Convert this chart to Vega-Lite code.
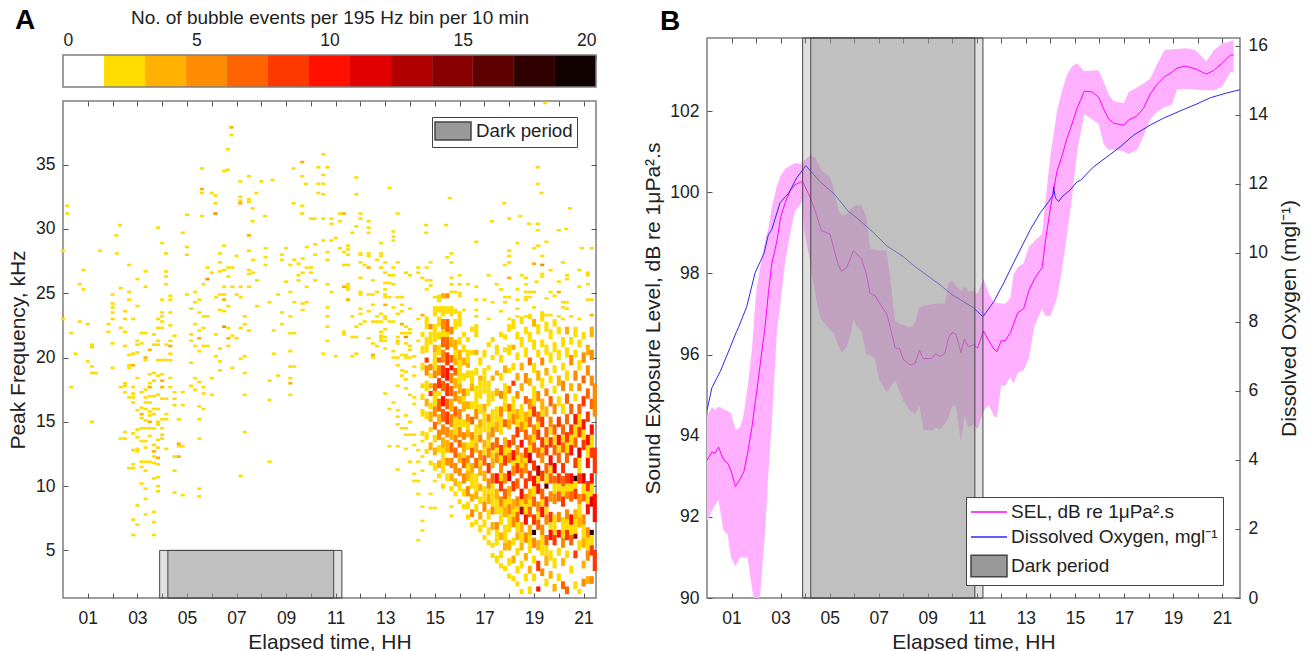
{"$schema":"https://vega.github.io/schema/vega-lite/v6.json","padding":{"left":6,"top":6,"right":0,"bottom":0},"background":"white","config":{"font":"Liberation Sans","view":{"stroke":"#7f7f7f","strokeWidth":1.5},"axis":{"grid":false,"domain":false,"zindex":1,"tickColor":"#555555","labelColor":"#222222","titleColor":"#222222","labelFontSize":17.5,"titleFontSize":21,"titleFontWeight":"normal","tickSize":-5,"labelPadding":13}},
"datasets":{"cb":[{"lo":0,"hi":1.54,"n":1},{"lo":1.54,"hi":3.08,"n":2},{"lo":3.08,"hi":4.62,"n":4},{"lo":4.62,"hi":6.15,"n":5},{"lo":6.15,"hi":7.69,"n":7},{"lo":7.69,"hi":9.23,"n":8},{"lo":9.23,"hi":10.77,"n":10},{"lo":10.77,"hi":12.31,"n":11},{"lo":12.31,"hi":13.85,"n":13},{"lo":13.85,"hi":15.38,"n":14},{"lo":15.38,"hi":16.92,"n":16},{"lo":16.92,"hi":18.46,"n":17},{"lo":18.46,"hi":20,"n":19}],
"cf":[{"lo":0,"hi":20}],
"sp":[{"t":0.17,"f":31.8,"n":2},{"t":0.17,"f":31.2,"n":2},{"t":0,"f":28.3,"n":2},{"t":0,"f":23,"n":2},{"t":0.33,"f":21.9,"n":2},{"t":0.33,"f":17.7,"n":2},{"t":0.5,"f":20.3,"n":2},{"t":0.67,"f":25.7,"n":2},{"t":0.67,"f":22.8,"n":2},{"t":0.83,"f":26.8,"n":2},{"t":0.83,"f":25.3,"n":2},{"t":1,"f":22.6,"n":2},{"t":1,"f":19.7,"n":2},{"t":1.17,"f":21,"n":2},{"t":1.17,"f":20.8,"n":2},{"t":1.17,"f":19.3,"n":2},{"t":1.17,"f":18.8,"n":2},{"t":1.33,"f":18.8,"n":2},{"t":1.17,"f":15,"n":2},{"t":1.5,"f":28.3,"n":2},{"t":1.83,"f":22.6,"n":2},{"t":1.83,"f":22,"n":2},{"t":2,"f":24.9,"n":2},{"t":2,"f":24.2,"n":2},{"t":2,"f":23.9,"n":2},{"t":2,"f":23.5,"n":2},{"t":2,"f":23,"n":2},{"t":2,"f":21.1,"n":2},{"t":2,"f":19.2,"n":2},{"t":2.17,"f":28.1,"n":2},{"t":2.15,"f":29.5,"n":2},{"t":2.3,"f":30.3,"n":2},{"t":2.33,"f":25.4,"n":2},{"t":2.33,"f":22.3,"n":2},{"t":2.33,"f":17.7,"n":2},{"t":2.33,"f":13.7,"n":2},{"t":2.5,"f":23.6,"n":2},{"t":2.5,"f":23,"n":2},{"t":2.5,"f":22,"n":2},{"t":2.5,"f":20.9,"n":2},{"t":2.5,"f":18,"n":2},{"t":2.5,"f":17.8,"n":2},{"t":2.5,"f":17.3,"n":2},{"t":2.5,"f":14.2,"n":2},{"t":2.5,"f":13.7,"n":2},{"t":2.67,"f":27.2,"n":2},{"t":2.67,"f":25.1,"n":2},{"t":2.67,"f":24.5,"n":2},{"t":2.67,"f":20.2,"n":2},{"t":2.67,"f":19.4,"n":2},{"t":2.67,"f":19.2,"n":2},{"t":2.67,"f":16.9,"n":2},{"t":2.67,"f":11.4,"n":2},{"t":2.83,"f":23,"n":2},{"t":2.83,"f":20.3,"n":2},{"t":2.83,"f":19.4,"n":4},{"t":2.83,"f":17.7,"n":2},{"t":2.83,"f":17.2,"n":2},{"t":2.83,"f":16.9,"n":2},{"t":2.83,"f":16.5,"n":2},{"t":2.83,"f":14.1,"n":2},{"t":2.83,"f":12.8,"n":2},{"t":2.83,"f":11.7,"n":2},{"t":2.83,"f":11.4,"n":2},{"t":2.83,"f":7.4,"n":2},{"t":2.83,"f":6.2,"n":2},{"t":3,"f":26.1,"n":2},{"t":3,"f":24,"n":2},{"t":3,"f":21.3,"n":2},{"t":3,"f":21,"n":2},{"t":3,"f":20.4,"n":2},{"t":3,"f":18.4,"n":2},{"t":3,"f":15.9,"n":2},{"t":3,"f":14.4,"n":2},{"t":3,"f":13.8,"n":2},{"t":3,"f":12.9,"n":2},{"t":3,"f":12.7,"n":2},{"t":3,"f":8.5,"n":2},{"t":3,"f":7,"n":2},{"t":3.17,"f":21.9,"n":2},{"t":3.17,"f":21.1,"n":2},{"t":3.17,"f":17.3,"n":2},{"t":3.17,"f":16.1,"n":2},{"t":3.17,"f":15.6,"n":4},{"t":3.17,"f":15.3,"n":2},{"t":3.17,"f":14.5,"n":2},{"t":3.17,"f":13.5,"n":2},{"t":3.17,"f":11.9,"n":2},{"t":3.17,"f":11.5,"n":2},{"t":3.17,"f":10.2,"n":2},{"t":3.33,"f":26.7,"n":2},{"t":3.33,"f":25.5,"n":2},{"t":3.33,"f":21.9,"n":2},{"t":3.33,"f":20,"n":4},{"t":3.33,"f":19.8,"n":2},{"t":3.33,"f":17.5,"n":2},{"t":3.33,"f":16.9,"n":2},{"t":3.33,"f":16.5,"n":2},{"t":3.33,"f":16,"n":2},{"t":3.33,"f":15.1,"n":2},{"t":3.33,"f":14.5,"n":2},{"t":3.33,"f":13.5,"n":2},{"t":3.33,"f":13,"n":2},{"t":3.33,"f":11.9,"n":2},{"t":3.33,"f":11.2,"n":2},{"t":3.33,"f":9.8,"n":2},{"t":3.33,"f":9,"n":2},{"t":3.33,"f":7.8,"n":2},{"t":3.5,"f":20.6,"n":4},{"t":3.5,"f":18.7,"n":2},{"t":3.5,"f":18,"n":2},{"t":3.5,"f":17.7,"n":4},{"t":3.5,"f":17,"n":2},{"t":3.5,"f":16.5,"n":2},{"t":3.5,"f":15.8,"n":2},{"t":3.5,"f":15.5,"n":2},{"t":3.5,"f":15,"n":4},{"t":3.5,"f":14.5,"n":2},{"t":3.5,"f":13.9,"n":2},{"t":3.5,"f":11.9,"n":2},{"t":3.67,"f":21.8,"n":2},{"t":3.67,"f":21,"n":2},{"t":3.67,"f":18.8,"n":2},{"t":3.67,"f":18.2,"n":2},{"t":3.67,"f":17,"n":2},{"t":3.67,"f":16,"n":2},{"t":3.67,"f":15.6,"n":2},{"t":3.67,"f":14.5,"n":2},{"t":3.67,"f":13.2,"n":2},{"t":3.67,"f":12.7,"n":4},{"t":3.67,"f":12.3,"n":2},{"t":3.67,"f":11.8,"n":2},{"t":3.67,"f":10.6,"n":2},{"t":3.67,"f":8,"n":2},{"t":3.67,"f":7.2,"n":2},{"t":3.67,"f":6.2,"n":2},{"t":3.83,"f":23,"n":2},{"t":3.83,"f":22.3,"n":2},{"t":3.83,"f":21.3,"n":2},{"t":3.83,"f":21,"n":2},{"t":3.83,"f":19.8,"n":2},{"t":3.83,"f":18.6,"n":2},{"t":3.83,"f":17.1,"n":2},{"t":3.83,"f":16,"n":2},{"t":3.83,"f":15,"n":2},{"t":3.83,"f":14.8,"n":2},{"t":3.83,"f":13.6,"n":2},{"t":3.83,"f":13,"n":2},{"t":3.83,"f":12.2,"n":4},{"t":3.83,"f":11.7,"n":2},{"t":3.83,"f":10.7,"n":2},{"t":3.83,"f":10,"n":2},{"t":3.83,"f":9.6,"n":2},{"t":3.83,"f":30.1,"n":2},{"t":4,"f":28.9,"n":2},{"t":4,"f":24.5,"n":2},{"t":4,"f":23.5,"n":2},{"t":4,"f":23.2,"n":2},{"t":4,"f":22.8,"n":2},{"t":4,"f":22.3,"n":2},{"t":4,"f":19.8,"n":2},{"t":4,"f":18.7,"n":2},{"t":4,"f":18.2,"n":4},{"t":4,"f":17.7,"n":4},{"t":4,"f":16.8,"n":2},{"t":4,"f":15.2,"n":2},{"t":4,"f":14.5,"n":2},{"t":4,"f":14,"n":2},{"t":4,"f":13.7,"n":2},{"t":4.15,"f":28.1,"n":2},{"t":4.15,"f":26.7,"n":2},{"t":4.15,"f":26.3,"n":2},{"t":4.15,"f":25.7,"n":2},{"t":4.17,"f":21,"n":2},{"t":4.17,"f":19.8,"n":2},{"t":4.17,"f":16.8,"n":2},{"t":4.17,"f":15.6,"n":2},{"t":4.17,"f":15.2,"n":2},{"t":4.17,"f":12.9,"n":2},{"t":4.33,"f":24.8,"n":2},{"t":4.33,"f":24.5,"n":2},{"t":4.33,"f":23.5,"n":2},{"t":4.33,"f":22.5,"n":2},{"t":4.33,"f":21.3,"n":2},{"t":4.33,"f":20.9,"n":4},{"t":4.33,"f":20.3,"n":2},{"t":4.33,"f":19.8,"n":2},{"t":4.33,"f":18.4,"n":2},{"t":4.33,"f":17.7,"n":2},{"t":4.5,"f":21.7,"n":2},{"t":4.5,"f":17.3,"n":2},{"t":4.5,"f":16.8,"n":2},{"t":4.5,"f":16.3,"n":2},{"t":4.5,"f":12.3,"n":2},{"t":4.5,"f":11.2,"n":2},{"t":4.5,"f":9.5,"n":2},{"t":4.67,"f":15.2,"n":2},{"t":4.67,"f":13.3,"n":4},{"t":4.67,"f":13.1,"n":2},{"t":4.67,"f":12.3,"n":4},{"t":4.83,"f":29.7,"n":2},{"t":4.83,"f":17.3,"n":2},{"t":4.83,"f":16.3,"n":2},{"t":4.83,"f":13.1,"n":2},{"t":4.83,"f":9.3,"n":2},{"t":5,"f":31.1,"n":2},{"t":5,"f":28.6,"n":2},{"t":5,"f":28,"n":2},{"t":5,"f":24.9,"n":2},{"t":5.17,"f":23.8,"n":2},{"t":5.17,"f":21.8,"n":2},{"t":5.17,"f":21.3,"n":2},{"t":5.17,"f":19.6,"n":2},{"t":5.17,"f":17.8,"n":2},{"t":5.33,"f":25.1,"n":2},{"t":5.33,"f":24.3,"n":2},{"t":5.33,"f":22.6,"n":2},{"t":5.33,"f":20.9,"n":2},{"t":5.33,"f":18.4,"n":2},{"t":5.33,"f":17.5,"n":2},{"t":5.5,"f":24.5,"n":2},{"t":5.5,"f":23.5,"n":2},{"t":5.5,"f":22.1,"n":2},{"t":5.5,"f":21.5,"n":4},{"t":5.5,"f":20.5,"n":2},{"t":5.5,"f":18.1,"n":2},{"t":5.5,"f":16.2,"n":2},{"t":5.5,"f":15.2,"n":2},{"t":5.5,"f":13.7,"n":2},{"t":5.5,"f":9.8,"n":2},{"t":5.5,"f":9.2,"n":2},{"t":5.6,"f":34.7,"n":2},{"t":5.6,"f":33.1,"n":4},{"t":5.6,"f":32.8,"n":2},{"t":5.6,"f":31,"n":2},{"t":5.67,"f":25.7,"n":2},{"t":5.67,"f":23.2,"n":2},{"t":5.67,"f":22.3,"n":2},{"t":5.67,"f":20.9,"n":2},{"t":5.67,"f":17.7,"n":2},{"t":5.67,"f":17.2,"n":2},{"t":5.67,"f":16,"n":2},{"t":5.83,"f":27,"n":2},{"t":5.83,"f":26.1,"n":5},{"t":5.83,"f":23.2,"n":2},{"t":5.83,"f":20.9,"n":2},{"t":6,"f":32.8,"n":2},{"t":6,"f":26.6,"n":2},{"t":6,"f":18.4,"n":2},{"t":6,"f":17.1,"n":2},{"t":6.15,"f":32.6,"n":2},{"t":6.15,"f":32,"n":2},{"t":6.15,"f":31.2,"n":5},{"t":6.17,"f":24.7,"n":2},{"t":6.17,"f":21.8,"n":2},{"t":6.17,"f":20.1,"n":2},{"t":6.33,"f":28.1,"n":2},{"t":6.33,"f":27.4,"n":2},{"t":6.33,"f":26.7,"n":2},{"t":6.33,"f":24.9,"n":2},{"t":6.33,"f":23.7,"n":2},{"t":6.33,"f":20.7,"n":2},{"t":6.33,"f":19.7,"n":2},{"t":6.33,"f":19,"n":2},{"t":6.5,"f":34.5,"n":2},{"t":6.5,"f":28.7,"n":2},{"t":6.5,"f":26.8,"n":2},{"t":6.5,"f":25.5,"n":2},{"t":6.5,"f":24.9,"n":2},{"t":6.5,"f":24.5,"n":4},{"t":6.5,"f":23.6,"n":2},{"t":6.5,"f":22.4,"n":5},{"t":6.65,"f":34.6,"n":2},{"t":6.65,"f":36.2,"n":2},{"t":6.67,"f":27,"n":2},{"t":6.67,"f":26.3,"n":2},{"t":6.67,"f":24,"n":2},{"t":6.67,"f":22.3,"n":2},{"t":6.67,"f":21.5,"n":4},{"t":6.67,"f":20.9,"n":2},{"t":6.8,"f":37.3,"n":2},{"t":6.8,"f":37.9,"n":4},{"t":6.83,"f":27,"n":2},{"t":6.83,"f":25.5,"n":2},{"t":6.83,"f":21.7,"n":2},{"t":6.83,"f":19.2,"n":2},{"t":7,"f":27.9,"n":2},{"t":7,"f":24.9,"n":2},{"t":7,"f":21.5,"n":2},{"t":7.15,"f":33.7,"n":2},{"t":7.15,"f":32.5,"n":2},{"t":7.15,"f":32.2,"n":2},{"t":7.15,"f":32,"n":4},{"t":7.17,"f":25.5,"n":2},{"t":7.17,"f":24.7,"n":2},{"t":7.17,"f":22.3,"n":2},{"t":7.17,"f":19.9,"n":2},{"t":7.17,"f":10.8,"n":2},{"t":7.33,"f":23.2,"n":2},{"t":7.33,"f":22.6,"n":2},{"t":7.33,"f":20.1,"n":2},{"t":7.33,"f":18.8,"n":2},{"t":7.33,"f":17.1,"n":2},{"t":7.33,"f":14.2,"n":2},{"t":7.5,"f":34.1,"n":2},{"t":7.5,"f":32.3,"n":2},{"t":7.5,"f":32.1,"n":2},{"t":7.5,"f":29.5,"n":4},{"t":7.5,"f":28.3,"n":2},{"t":7.5,"f":26.8,"n":2},{"t":7.5,"f":26.5,"n":2},{"t":7.5,"f":25.5,"n":2},{"t":7.5,"f":22.1,"n":2},{"t":7.65,"f":31.6,"n":2},{"t":7.65,"f":30.6,"n":2},{"t":7.67,"f":27.6,"n":2},{"t":7.67,"f":26.6,"n":2},{"t":7.8,"f":32.8,"n":2},{"t":7.83,"f":26,"n":2},{"t":7.83,"f":24,"n":2},{"t":8,"f":33.7,"n":2},{"t":8.15,"f":31,"n":2},{"t":8.17,"f":28.5,"n":2},{"t":8.17,"f":27.8,"n":2},{"t":8.17,"f":27.2,"n":2},{"t":8.33,"f":24.3,"n":2},{"t":8.33,"f":18.2,"n":2},{"t":8.33,"f":16.7,"n":2},{"t":8.33,"f":11.9,"n":2},{"t":8.45,"f":33.8,"n":2},{"t":8.5,"f":22.1,"n":2},{"t":8.5,"f":20.3,"n":2},{"t":8.67,"f":24.9,"n":2},{"t":8.67,"f":18.6,"n":2},{"t":8.83,"f":28,"n":2},{"t":8.83,"f":27.6,"n":2},{"t":8.83,"f":23.5,"n":2},{"t":8.83,"f":22.6,"n":2},{"t":9,"f":28.5,"n":2},{"t":9,"f":25.9,"n":2},{"t":9.17,"f":27.2,"n":2},{"t":9.17,"f":25.1,"n":2},{"t":9.17,"f":23.2,"n":2},{"t":9.17,"f":21.9,"n":2},{"t":9.17,"f":20.5,"n":2},{"t":9.17,"f":19.3,"n":2},{"t":9.17,"f":18.4,"n":2},{"t":9.17,"f":18,"n":4},{"t":9.17,"f":17.1,"n":2},{"t":9.3,"f":34.7,"n":2},{"t":9.3,"f":32,"n":2},{"t":9.33,"f":27.6,"n":2},{"t":9.33,"f":24.3,"n":2},{"t":9.33,"f":21.9,"n":2},{"t":9.33,"f":19.3,"n":2},{"t":9.5,"f":27.3,"n":2},{"t":9.5,"f":26.4,"n":2},{"t":9.5,"f":26,"n":2},{"t":9.65,"f":35.2,"n":4},{"t":9.65,"f":34.1,"n":2},{"t":9.65,"f":31.8,"n":2},{"t":9.65,"f":31.2,"n":2},{"t":9.67,"f":27.7,"n":2},{"t":9.67,"f":26.6,"n":2},{"t":9.67,"f":24.2,"n":2},{"t":9.67,"f":23.7,"n":2},{"t":9.8,"f":33.5,"n":2},{"t":9.83,"f":28.6,"n":2},{"t":9.83,"f":27,"n":2},{"t":9.83,"f":25.5,"n":2},{"t":9.83,"f":24.3,"n":2},{"t":10,"f":30.8,"n":2},{"t":10,"f":27,"n":2},{"t":10,"f":26.6,"n":2},{"t":10.15,"f":30.8,"n":2},{"t":10.17,"f":28.8,"n":2},{"t":10.17,"f":28,"n":2},{"t":10.17,"f":26,"n":2},{"t":10.3,"f":34.8,"n":2},{"t":10.3,"f":33.5,"n":2},{"t":10.3,"f":32.8,"n":2},{"t":10.5,"f":35.8,"n":2},{"t":10.5,"f":34.2,"n":2},{"t":10.5,"f":33.5,"n":2},{"t":10.5,"f":32.7,"n":2},{"t":10.5,"f":30.8,"n":2},{"t":10.5,"f":29.1,"n":2},{"t":10.5,"f":20.3,"n":2},{"t":10.67,"f":34.8,"n":2},{"t":10.67,"f":28.2,"n":2},{"t":10.67,"f":27.6,"n":2},{"t":10.67,"f":25.7,"n":2},{"t":10.67,"f":23.9,"n":2},{"t":10.67,"f":23.2,"n":2},{"t":10.67,"f":22.4,"n":2},{"t":10.67,"f":21.3,"n":2},{"t":10.83,"f":30.8,"n":2},{"t":10.83,"f":30.4,"n":2},{"t":10.83,"f":29.1,"n":2},{"t":10.83,"f":25.1,"n":2},{"t":11,"f":29.3,"n":2},{"t":11,"f":20.1,"n":2},{"t":11.17,"f":31.2,"n":2},{"t":11.17,"f":30.6,"n":2},{"t":11.17,"f":28.5,"n":2},{"t":11.33,"f":31.2,"n":4},{"t":11.33,"f":28.2,"n":2},{"t":11.33,"f":27.2,"n":2},{"t":11.33,"f":25.5,"n":4},{"t":11.33,"f":22,"n":2},{"t":11.33,"f":21.8,"n":2},{"t":11.5,"f":28.7,"n":2},{"t":11.5,"f":28.4,"n":2},{"t":11.5,"f":28,"n":2},{"t":11.5,"f":27.2,"n":2},{"t":11.5,"f":25.7,"n":2},{"t":11.5,"f":25.5,"n":2},{"t":11.5,"f":25.3,"n":2},{"t":11.5,"f":24.5,"n":4},{"t":11.67,"f":29.7,"n":2},{"t":11.67,"f":23.2,"n":2},{"t":11.67,"f":21.6,"n":2},{"t":11.67,"f":20.1,"n":2},{"t":11.83,"f":34,"n":2},{"t":11.83,"f":32.7,"n":2},{"t":11.83,"f":30.2,"n":2},{"t":11.83,"f":22.4,"n":2},{"t":11.83,"f":21.6,"n":2},{"t":11.83,"f":20.3,"n":2},{"t":12,"f":31.2,"n":2},{"t":12,"f":30.8,"n":2},{"t":12,"f":28.1,"n":2},{"t":12,"f":28,"n":2},{"t":12,"f":27.4,"n":2},{"t":12,"f":26.2,"n":2},{"t":12,"f":25.1,"n":2},{"t":12,"f":24.9,"n":2},{"t":12,"f":23.8,"n":2},{"t":12,"f":23.4,"n":2},{"t":12,"f":22.6,"n":2},{"t":12.17,"f":27.2,"n":2},{"t":12.17,"f":22.8,"n":2},{"t":12.33,"f":30.6,"n":2},{"t":12.33,"f":30.1,"n":2},{"t":12.33,"f":29.7,"n":2},{"t":12.33,"f":28.1,"n":2},{"t":12.33,"f":27.9,"n":2},{"t":12.33,"f":27,"n":4},{"t":12.33,"f":24.9,"n":2},{"t":12.33,"f":23.6,"n":2},{"t":12.33,"f":21.5,"n":2},{"t":12.5,"f":26,"n":2},{"t":12.5,"f":24.9,"n":2},{"t":12.5,"f":24.1,"n":2},{"t":12.5,"f":22.8,"n":2},{"t":12.5,"f":21.1,"n":2},{"t":12.5,"f":20.2,"n":4},{"t":12.5,"f":20,"n":2},{"t":12.67,"f":27.6,"n":2},{"t":12.67,"f":25.1,"n":2},{"t":12.67,"f":23.2,"n":2},{"t":12.67,"f":22.8,"n":2},{"t":12.67,"f":20.9,"n":2},{"t":12.83,"f":28.9,"n":2},{"t":12.83,"f":28.1,"n":2},{"t":12.83,"f":27.9,"n":2},{"t":12.83,"f":27,"n":2},{"t":12.83,"f":23.4,"n":2},{"t":12.83,"f":22.8,"n":2},{"t":12.83,"f":22,"n":2},{"t":12.83,"f":21.7,"n":2},{"t":12.83,"f":21.5,"n":2},{"t":12.83,"f":21.3,"n":2},{"t":13,"f":27.4,"n":2},{"t":13,"f":26.6,"n":2},{"t":13,"f":25.8,"n":2},{"t":13,"f":25.3,"n":2},{"t":13,"f":24.9,"n":2},{"t":13,"f":24.7,"n":2},{"t":13,"f":24.1,"n":4},{"t":13,"f":23.2,"n":2},{"t":13,"f":23,"n":2},{"t":13,"f":22.2,"n":2},{"t":13,"f":21.6,"n":2},{"t":13,"f":21.3,"n":2},{"t":13,"f":20.7,"n":2},{"t":13,"f":17.2,"n":2},{"t":13.17,"f":33.2,"n":2},{"t":13.17,"f":26.4,"n":2},{"t":13.17,"f":25.8,"n":2},{"t":13.17,"f":24.7,"n":2},{"t":13.17,"f":22.8,"n":2},{"t":13.17,"f":16,"n":2},{"t":13.17,"f":13.1,"n":2},{"t":13.33,"f":29.8,"n":2},{"t":13.33,"f":29.4,"n":2},{"t":13.33,"f":29.1,"n":2},{"t":13.33,"f":27,"n":2},{"t":13.33,"f":26.4,"n":2},{"t":13.33,"f":25.7,"n":2},{"t":13.33,"f":23.9,"n":2},{"t":13.33,"f":22.8,"n":2},{"t":13.33,"f":20.5,"n":2},{"t":13.33,"f":20,"n":2},{"t":13.33,"f":16.5,"n":2},{"t":13.5,"f":31.2,"n":2},{"t":13.5,"f":27.4,"n":2},{"t":13.5,"f":24.7,"n":2},{"t":13.5,"f":23.4,"n":2},{"t":13.5,"f":21.6,"n":2},{"t":13.5,"f":21.3,"n":2},{"t":13.5,"f":21.1,"n":2},{"t":13.5,"f":20,"n":2},{"t":13.5,"f":19.4,"n":2},{"t":13.5,"f":17.8,"n":2},{"t":13.5,"f":15.9,"n":2},{"t":13.5,"f":15.4,"n":2},{"t":13.5,"f":14.8,"n":2},{"t":13.5,"f":13.1,"n":2},{"t":13.5,"f":11.3,"n":2},{"t":13.67,"f":24.7,"n":2},{"t":13.67,"f":24.1,"n":2},{"t":13.67,"f":23.6,"n":2},{"t":13.67,"f":22.6,"n":4},{"t":13.67,"f":21.9,"n":2},{"t":13.67,"f":20.2,"n":2},{"t":13.67,"f":19,"n":2},{"t":13.67,"f":18.6,"n":2},{"t":13.67,"f":14.5,"n":2},{"t":13.83,"f":26.6,"n":2},{"t":13.83,"f":22.4,"n":2},{"t":13.83,"f":21.9,"n":2},{"t":13.83,"f":21.6,"n":5},{"t":13.83,"f":21.1,"n":2},{"t":13.83,"f":20.2,"n":2},{"t":13.83,"f":20,"n":2},{"t":13.83,"f":18.9,"n":2},{"t":13.83,"f":18.3,"n":2},{"t":13.83,"f":17.6,"n":2},{"t":13.83,"f":15.5,"n":2},{"t":13.83,"f":14.5,"n":2},{"t":13.83,"f":14,"n":2},{"t":13.83,"f":12.9,"n":2},{"t":14,"f":26.4,"n":2},{"t":14,"f":23.8,"n":2},{"t":14,"f":22.2,"n":2},{"t":14,"f":21.9,"n":2},{"t":14,"f":20.9,"n":2},{"t":14,"f":20.6,"n":2},{"t":14,"f":20,"n":2},{"t":14,"f":17.1,"n":2},{"t":14,"f":15,"n":2},{"t":14,"f":14,"n":2},{"t":14,"f":11.9,"n":2},{"t":14.17,"f":20.1,"n":2},{"t":14.17,"f":19.3,"n":2},{"t":14.17,"f":18.6,"n":2},{"t":14.17,"f":16.9,"n":2},{"t":14.17,"f":16.4,"n":2},{"t":14.17,"f":14,"n":2},{"t":14.17,"f":13.2,"n":2},{"t":14.17,"f":10.95,"n":2},{"t":14.17,"f":10.4,"n":2},{"t":14.33,"f":27,"n":2},{"t":14.33,"f":26.6,"n":2},{"t":14.33,"f":23,"n":2},{"t":14.33,"f":21.3,"n":2},{"t":14.33,"f":12.8,"n":2},{"t":14.33,"f":11.9,"n":2},{"t":14.33,"f":10.4,"n":2},{"t":14.33,"f":9.4,"n":2},{"t":14.33,"f":5.8,"n":2},{"t":14.5,"f":26.2,"n":2},{"t":14.5,"f":23.3,"n":4},{"t":14.5,"f":13.5,"n":2},{"t":14.5,"f":12.3,"n":2},{"t":14.5,"f":11.2,"n":2},{"t":14.5,"f":8.4,"n":2},{"t":14.5,"f":7.3,"n":2},{"t":14.5,"f":6.55,"n":2},{"t":14.65,"f":30.3,"n":2},{"t":14.65,"f":29.7,"n":2},{"t":14.67,"f":27,"n":2},{"t":14.67,"f":26,"n":2},{"t":14.67,"f":25.3,"n":2},{"t":14.83,"f":27.4,"n":2},{"t":14.83,"f":26,"n":2},{"t":14.83,"f":25.6,"n":2},{"t":14.83,"f":9.4,"n":2},{"t":14.83,"f":8.3,"n":2},{"t":15,"f":24.7,"n":2},{"t":15,"f":10.4,"n":2},{"t":15,"f":8.3,"n":2},{"t":15.45,"f":30.3,"n":2},{"t":15.6,"f":32.4,"n":2},{"t":15.5,"f":27.8,"n":2},{"t":15.67,"f":28.1,"n":2},{"t":15.67,"f":27.4,"n":2},{"t":15.67,"f":26.2,"n":2},{"t":15.67,"f":25.7,"n":2},{"t":15.67,"f":25.1,"n":2},{"t":15.67,"f":8.4,"n":2},{"t":15.67,"f":7.7,"n":2},{"t":15.83,"f":25.1,"n":2},{"t":16,"f":26.4,"n":2},{"t":16,"f":25.7,"n":2},{"t":16,"f":25,"n":2},{"t":16,"f":24.8,"n":2},{"t":16.17,"f":23.7,"n":2},{"t":16.33,"f":25.7,"n":2},{"t":16.67,"f":29,"n":2},{"t":16.67,"f":25.5,"n":2},{"t":16.67,"f":24.5,"n":2},{"t":16.67,"f":23.7,"n":2},{"t":16.67,"f":23.2,"n":2},{"t":17,"f":24.5,"n":2},{"t":17.17,"f":26.4,"n":2},{"t":17.17,"f":23,"n":2},{"t":17.3,"f":30.6,"n":2},{"t":17.33,"f":24.3,"n":2},{"t":17.5,"f":25.7,"n":2},{"t":17.67,"f":25.3,"n":2},{"t":17.67,"f":23.6,"n":2},{"t":17.8,"f":32,"n":2},{"t":17.83,"f":27.2,"n":2},{"t":17.83,"f":24.7,"n":2},{"t":17.83,"f":24.3,"n":2},{"t":18,"f":30.8,"n":2},{"t":18,"f":28.3,"n":2},{"t":18,"f":27.9,"n":2},{"t":18,"f":27.4,"n":2},{"t":18,"f":26.2,"n":4},{"t":18,"f":24.7,"n":2},{"t":18,"f":23,"n":2},{"t":18.33,"f":28.9,"n":2},{"t":18.33,"f":25.3,"n":2},{"t":18.33,"f":24.5,"n":2},{"t":18.33,"f":23.8,"n":2},{"t":18.33,"f":23.2,"n":2},{"t":18.45,"f":31,"n":2},{"t":18.5,"f":26.4,"n":2},{"t":18.67,"f":26.2,"n":2},{"t":18.67,"f":25.7,"n":2},{"t":18.67,"f":25.1,"n":2},{"t":18.67,"f":24.7,"n":2},{"t":18.67,"f":24.5,"n":2},{"t":18.67,"f":23.2,"n":2},{"t":18.8,"f":30.4,"n":2},{"t":18.83,"f":25.1,"n":2},{"t":18.83,"f":24.7,"n":2},{"t":19,"f":28.5,"n":2},{"t":19,"f":27.3,"n":4},{"t":19,"f":25.1,"n":2},{"t":19,"f":23.9,"n":2},{"t":19.1,"f":25.9,"n":2},{"t":19.15,"f":34.8,"n":2},{"t":19.15,"f":33.5,"n":2},{"t":19.15,"f":30.4,"n":2},{"t":19.15,"f":29.9,"n":2},{"t":19.17,"f":28.7,"n":2},{"t":19.3,"f":32.8,"n":2},{"t":19.33,"f":27.9,"n":2},{"t":19.33,"f":27.2,"n":5},{"t":19.33,"f":26.5,"n":2},{"t":19.33,"f":26.3,"n":2},{"t":19.45,"f":39.8,"n":2},{"t":19.5,"f":29,"n":2},{"t":19.5,"f":24.6,"n":2},{"t":19.5,"f":23.3,"n":2},{"t":19.67,"f":26.8,"n":2},{"t":19.67,"f":25.1,"n":2},{"t":19.67,"f":23.3,"n":2},{"t":19.83,"f":24.8,"n":2},{"t":20,"f":29.9,"n":2},{"t":20,"f":25.9,"n":2},{"t":20,"f":25.1,"n":4},{"t":20,"f":23.2,"n":2},{"t":20.17,"f":27.4,"n":2},{"t":20.17,"f":24.3,"n":2},{"t":20.17,"f":23.9,"n":2},{"t":20.17,"f":23,"n":2},{"t":20.3,"f":30,"n":2},{"t":20.33,"f":26.4,"n":2},{"t":20.33,"f":26.1,"n":2},{"t":20.33,"f":24.3,"n":2},{"t":20.33,"f":23.8,"n":2},{"t":20.45,"f":31.6,"n":2},{"t":20.5,"f":23.2,"n":2},{"t":20.83,"f":26.8,"n":2},{"t":20.83,"f":25.5,"n":2},{"t":20.83,"f":23,"n":2},{"t":20.93,"f":28.5,"n":2},{"t":21.17,"f":26.6,"n":2},{"t":21.17,"f":26.4,"n":2},{"t":21.17,"f":25.7,"n":2},{"t":21.17,"f":24.5,"n":2},{"t":21.33,"f":28.5,"n":2},{"t":21.33,"f":24.5,"n":2},{"t":21.33,"f":23.3,"n":4}],
"dn":[{"t":15,"f":16.2,"g":17.4,"n":2},{"t":15,"f":19,"g":20.4,"n":2},{"t":15.33,"f":21.6,"g":22.2,"n":2},{"t":15.33,"f":11.6,"g":13,"n":2},{"t":15.5,"f":21.6,"g":22,"n":2},{"t":15.83,"f":14,"g":15.4,"n":2},{"t":15.83,"f":20,"g":20.6,"n":2},{"t":16,"f":14.6,"g":15.2,"n":2},{"t":16,"f":18,"g":19.8,"n":2},{"t":16.17,"f":12.2,"g":12.6,"n":2},{"t":16.17,"f":16.6,"g":17,"n":2},{"t":16.33,"f":14.4,"g":15,"n":2},{"t":16.33,"f":11.2,"g":11.8,"n":2},{"t":16.33,"f":19.6,"g":20.6,"n":2},{"t":16.5,"f":18,"g":18.6,"n":2},{"t":16.5,"f":13,"g":13.6,"n":2},{"t":16.5,"f":10.4,"g":11,"n":2},{"t":16.67,"f":16,"g":17,"n":2},{"t":16.67,"f":13.4,"g":14,"n":2},{"t":16.67,"f":9.6,"g":10.2,"n":2},{"t":16.83,"f":11.6,"g":12,"n":2},{"t":16.83,"f":14,"g":14.6,"n":2},{"t":16.83,"f":17.6,"g":18.2,"n":2},{"t":17,"f":12.4,"g":13,"n":2},{"t":17,"f":15,"g":15.8,"n":2},{"t":17,"f":8.8,"g":9.2,"n":2},{"t":17,"f":18,"g":18.6,"n":2},{"t":17.17,"f":13,"g":13.6,"n":2},{"t":17.17,"f":9.4,"g":9.8,"n":2},{"t":17.17,"f":14.2,"g":15,"n":2},{"t":17.17,"f":16.8,"g":17.6,"n":2},{"t":17.33,"f":14.6,"g":15.2,"n":2},{"t":17.33,"f":9.8,"g":10.2,"n":2},{"t":17.33,"f":12.2,"g":12.8,"n":2},{"t":17.33,"f":8.4,"g":9,"n":2},{"t":17.5,"f":12.6,"g":13,"n":2},{"t":17.5,"f":15,"g":15.6,"n":2},{"t":17.5,"f":8.6,"g":9,"n":2},{"t":17.5,"f":6,"g":6.6,"n":2},{"t":17.67,"f":14.8,"g":15.4,"n":2},{"t":17.67,"f":11.8,"g":12.4,"n":2},{"t":17.67,"f":7.8,"g":8.4,"n":2},{"t":17.67,"f":10.4,"g":11,"n":2},{"t":17.83,"f":12.4,"g":13,"n":2},{"t":17.83,"f":16.6,"g":17.4,"n":2},{"t":17.83,"f":8.4,"g":9,"n":2},{"t":17.83,"f":5.6,"g":6.2,"n":2},{"t":18,"f":15.2,"g":15.8,"n":2},{"t":18,"f":12.6,"g":13,"n":2},{"t":18,"f":8.6,"g":9.2,"n":2},{"t":18,"f":7.2,"g":7.8,"n":2},{"t":18.17,"f":15.6,"g":16.4,"n":2},{"t":18.17,"f":11.6,"g":12,"n":2},{"t":18.17,"f":7.6,"g":8.2,"n":2},{"t":18.33,"f":14.6,"g":15.2,"n":2},{"t":18.33,"f":11.8,"g":12.4,"n":2},{"t":18.33,"f":8,"g":8.4,"n":2},{"t":18.33,"f":6.4,"g":7.2,"n":2},{"t":18.5,"f":15,"g":15.6,"n":2},{"t":18.5,"f":11.4,"g":11.8,"n":2},{"t":18.5,"f":8.4,"g":9,"n":2},{"t":18.5,"f":5.6,"g":6.4,"n":2},{"t":18.67,"f":14.4,"g":15,"n":2},{"t":18.67,"f":11.8,"g":12.2,"n":2},{"t":18.67,"f":7.8,"g":8.6,"n":2},{"t":18.83,"f":15.4,"g":16,"n":2},{"t":18.83,"f":12.6,"g":13.2,"n":2},{"t":18.83,"f":8.4,"g":9,"n":2},{"t":18.83,"f":5.4,"g":6.2,"n":2},{"t":19,"f":13.4,"g":14,"n":2},{"t":19,"f":9.2,"g":10,"n":2},{"t":19,"f":16.2,"g":17,"n":2},{"t":19.17,"f":14.4,"g":15,"n":2},{"t":19.17,"f":10.2,"g":10.8,"n":2},{"t":19.17,"f":7.4,"g":8,"n":2},{"t":19.33,"f":12.6,"g":13,"n":2},{"t":19.33,"f":15.4,"g":16,"n":2},{"t":19.33,"f":8.4,"g":9,"n":2},{"t":19.33,"f":5.4,"g":6.2,"n":2},{"t":19.5,"f":13.2,"g":13.8,"n":2},{"t":19.5,"f":10.2,"g":11,"n":2},{"t":19.5,"f":7.8,"g":8.4,"n":2},{"t":19.5,"f":4.6,"g":5.4,"n":2},{"t":19.67,"f":14,"g":14.6,"n":2},{"t":19.67,"f":11,"g":11.6,"n":2},{"t":19.67,"f":6.6,"g":7.2,"n":2},{"t":19.83,"f":13.2,"g":14,"n":2},{"t":19.83,"f":9.4,"g":10.2,"n":2},{"t":19.83,"f":6.2,"g":7,"n":2},{"t":20,"f":12.6,"g":13.2,"n":2},{"t":20,"f":9.6,"g":10.2,"n":2},{"t":20.17,"f":13.4,"g":14,"n":2},{"t":20.17,"f":9.2,"g":10,"n":2},{"t":20.17,"f":6,"g":6.8,"n":2},{"t":20.33,"f":12.6,"g":13.4,"n":2},{"t":20.33,"f":9.6,"g":10.2,"n":2},{"t":20.33,"f":6.6,"g":7.4,"n":2},{"t":20.5,"f":13.2,"g":14,"n":2},{"t":20.5,"f":9.6,"g":10.2,"n":2},{"t":20.5,"f":6.2,"g":7,"n":2},{"t":20.67,"f":13.8,"g":14.8,"n":2},{"t":20.67,"f":9.8,"g":10.4,"n":2},{"t":20.67,"f":6.3,"g":7.4,"n":2},{"t":20.83,"f":11,"g":12.2,"n":2},{"t":20.83,"f":7.6,"g":8.6,"n":2},{"t":20.83,"f":14.6,"g":15.6,"n":2},{"t":21,"f":13.6,"g":14.4,"n":2},{"t":21,"f":9.4,"g":10.2,"n":2},{"t":21,"f":6,"g":7,"n":2},{"t":21.17,"f":12.2,"g":13.2,"n":2},{"t":21.17,"f":8.6,"g":9.6,"n":2},{"t":21.17,"f":5,"g":6,"n":2},{"t":21.33,"f":13,"g":14,"n":2},{"t":21.33,"f":9.2,"g":10.2,"n":2},{"t":21.33,"f":5.4,"g":6.2,"n":2},{"t":14.5,"f":21.6,"g":22,"n":2},{"t":14.5,"f":20.3,"g":20.9,"n":2},{"t":14.5,"f":19,"g":19.6,"n":2},{"t":14.5,"f":17.6,"g":18,"n":2},{"t":14.5,"f":16.7,"g":17.2,"n":2},{"t":14.5,"f":15.4,"g":16,"n":2},{"t":14.5,"f":13.9,"g":14.3,"n":2},{"t":14.67,"f":22.2,"g":23.2,"n":2},{"t":14.67,"f":20.4,"g":21.6,"n":2},{"t":14.67,"f":19.6,"g":20,"n":8},{"t":14.67,"f":18.6,"g":19.4,"n":5},{"t":14.67,"f":17.4,"g":18.2,"n":2},{"t":14.67,"f":16.2,"g":16.8,"n":4},{"t":14.67,"f":15.2,"g":15.8,"n":2},{"t":14.67,"f":13.6,"g":14.2,"n":2},{"t":14.67,"f":12.5,"g":12.9,"n":2},{"t":14.83,"f":22.2,"g":22.6,"n":5},{"t":14.83,"f":21,"g":22,"n":2},{"t":14.83,"f":19,"g":19.5,"n":5},{"t":14.83,"f":18.4,"g":18.8,"n":2},{"t":14.83,"f":17.6,"g":18,"n":4},{"t":14.83,"f":17,"g":17.4,"n":8},{"t":14.83,"f":16,"g":16.5,"n":2},{"t":14.83,"f":15,"g":15.8,"n":4},{"t":14.83,"f":14.2,"g":14.6,"n":2},{"t":14.83,"f":12.8,"g":13.4,"n":4},{"t":14.83,"f":11.6,"g":12,"n":2},{"t":15,"f":23.2,"g":24,"n":2},{"t":15,"f":21.2,"g":22.6,"n":2},{"t":15,"f":20.4,"g":21,"n":4},{"t":15,"f":19.4,"g":19.8,"n":2},{"t":15,"f":18.4,"g":19,"n":5},{"t":15,"f":17.4,"g":18,"n":7},{"t":15,"f":16.6,"g":17,"n":2},{"t":15,"f":15.4,"g":16.2,"n":5},{"t":15,"f":14.4,"g":15,"n":7},{"t":15,"f":13.4,"g":14,"n":2},{"t":15,"f":12.4,"g":13,"n":4},{"t":15,"f":11.2,"g":11.8,"n":2},{"t":15.17,"f":24.3,"g":24.9,"n":2},{"t":15.17,"f":23.5,"g":24,"n":2},{"t":15.17,"f":22.4,"g":23.2,"n":2},{"t":15.17,"f":21.4,"g":22,"n":2},{"t":15.17,"f":20.2,"g":21,"n":2},{"t":15.17,"f":19.6,"g":20,"n":7},{"t":15.17,"f":18.6,"g":19.4,"n":5},{"t":15.17,"f":17.6,"g":18.4,"n":8},{"t":15.17,"f":17,"g":17.4,"n":2},{"t":15.17,"f":15.8,"g":16.8,"n":7},{"t":15.17,"f":14.8,"g":15.6,"n":4},{"t":15.17,"f":13.6,"g":14.4,"n":5},{"t":15.17,"f":12.6,"g":13.2,"n":2},{"t":15.17,"f":11.4,"g":12,"n":4},{"t":15.17,"f":10.6,"g":11,"n":2},{"t":15.33,"f":24.6,"g":25,"n":4},{"t":15.33,"f":23.2,"g":24,"n":2},{"t":15.33,"f":22.2,"g":23,"n":5},{"t":15.33,"f":20.8,"g":21.6,"n":7},{"t":15.33,"f":19.6,"g":20.6,"n":5},{"t":15.33,"f":18.4,"g":19.4,"n":8},{"t":15.33,"f":17.4,"g":18.2,"n":7},{"t":15.33,"f":16.2,"g":17,"n":10},{"t":15.33,"f":15,"g":16,"n":7},{"t":15.33,"f":14,"g":14.8,"n":5},{"t":15.33,"f":13,"g":13.8,"n":4},{"t":15.33,"f":12,"g":12.6,"n":2},{"t":15.33,"f":11,"g":11.6,"n":2},{"t":15.33,"f":9.8,"g":10.2,"n":2},{"t":15.5,"f":24.6,"g":25,"n":5},{"t":15.5,"f":23.4,"g":24,"n":2},{"t":15.5,"f":22,"g":23,"n":7},{"t":15.5,"f":20.6,"g":21.6,"n":7},{"t":15.5,"f":19.4,"g":20.4,"n":8},{"t":15.5,"f":18.2,"g":19.2,"n":10},{"t":15.5,"f":17,"g":18,"n":8},{"t":15.5,"f":16,"g":16.8,"n":7},{"t":15.5,"f":14.8,"g":15.8,"n":8},{"t":15.5,"f":13.8,"g":14.6,"n":5},{"t":15.5,"f":12.6,"g":13.6,"n":4},{"t":15.5,"f":11.6,"g":12.2,"n":5},{"t":15.5,"f":10.4,"g":11,"n":2},{"t":15.67,"f":23.2,"g":24,"n":2},{"t":15.67,"f":21.8,"g":22.4,"n":5},{"t":15.67,"f":20.8,"g":21.6,"n":4},{"t":15.67,"f":19.6,"g":20.2,"n":7},{"t":15.67,"f":19,"g":19.4,"n":10},{"t":15.67,"f":18,"g":18.8,"n":5},{"t":15.67,"f":17,"g":17.8,"n":7},{"t":15.67,"f":15.8,"g":16.8,"n":4},{"t":15.67,"f":14.6,"g":15.6,"n":5},{"t":15.67,"f":13.6,"g":14.4,"n":4},{"t":15.67,"f":12.6,"g":13.4,"n":7},{"t":15.67,"f":11.4,"g":12.2,"n":5},{"t":15.67,"f":10.4,"g":11,"n":4},{"t":15.67,"f":9.6,"g":10,"n":2},{"t":15.83,"f":23.4,"g":23.8,"n":2},{"t":15.83,"f":22.2,"g":23,"n":2},{"t":15.83,"f":20.6,"g":21.4,"n":4},{"t":15.83,"f":19.4,"g":20,"n":4},{"t":15.83,"f":18.6,"g":19.2,"n":7},{"t":15.83,"f":17.6,"g":18.4,"n":4},{"t":15.83,"f":16.6,"g":17.4,"n":5},{"t":15.83,"f":15.4,"g":16.2,"n":7},{"t":15.83,"f":14.4,"g":15.2,"n":2},{"t":15.83,"f":13.4,"g":14,"n":5},{"t":15.83,"f":12.2,"g":13,"n":7},{"t":15.83,"f":11,"g":11.8,"n":5},{"t":15.83,"f":10,"g":10.6,"n":4},{"t":15.83,"f":9.2,"g":9.6,"n":2},{"t":16,"f":22.4,"g":23.6,"n":2},{"t":16,"f":21,"g":21.6,"n":2},{"t":16,"f":19.8,"g":20.6,"n":4},{"t":16,"f":18.4,"g":19.4,"n":2},{"t":16,"f":17.2,"g":18,"n":4},{"t":16,"f":16.4,"g":17,"n":4},{"t":16,"f":15.2,"g":16,"n":5},{"t":16,"f":13.8,"g":14.6,"n":5},{"t":16,"f":13,"g":13.6,"n":7},{"t":16,"f":11.8,"g":12.6,"n":4},{"t":16,"f":10.8,"g":11.4,"n":5},{"t":16,"f":9.6,"g":10.4,"n":2},{"t":16,"f":8.6,"g":9,"n":2},{"t":16.17,"f":21.6,"g":22,"n":2},{"t":16.17,"f":20.4,"g":21,"n":2},{"t":16.17,"f":19.4,"g":20,"n":4},{"t":16.17,"f":18.2,"g":18.8,"n":2},{"t":16.17,"f":17,"g":17.6,"n":5},{"t":16.17,"f":15.8,"g":16.6,"n":4},{"t":16.17,"f":14.6,"g":15.2,"n":2},{"t":16.17,"f":13.6,"g":14.2,"n":5},{"t":16.17,"f":12.6,"g":13.4,"n":4},{"t":16.17,"f":11.4,"g":12.2,"n":7},{"t":16.17,"f":10.2,"g":11,"n":5},{"t":16.17,"f":9.2,"g":9.8,"n":2},{"t":16.17,"f":8.2,"g":8.6,"n":2},{"t":16.33,"f":21.2,"g":21.6,"n":2},{"t":16.33,"f":19.2,"g":19.6,"n":4},{"t":16.33,"f":18.4,"g":19,"n":2},{"t":16.33,"f":17,"g":17.6,"n":2},{"t":16.33,"f":16,"g":16.6,"n":4},{"t":16.33,"f":15,"g":15.6,"n":5},{"t":16.33,"f":13.8,"g":14.4,"n":4},{"t":16.33,"f":12.8,"g":13.4,"n":2},{"t":16.33,"f":11.8,"g":12.4,"n":5},{"t":16.33,"f":10.4,"g":11.2,"n":4},{"t":16.33,"f":9.2,"g":10,"n":5},{"t":16.33,"f":8.2,"g":8.8,"n":2},{"t":16.33,"f":7.4,"g":7.8,"n":2},{"t":16.5,"f":22,"g":22.4,"n":2},{"t":16.5,"f":20.2,"g":20.6,"n":2},{"t":16.5,"f":18.6,"g":19,"n":2},{"t":16.5,"f":17.4,"g":18,"n":4},{"t":16.5,"f":16,"g":16.6,"n":2},{"t":16.5,"f":14.8,"g":15.4,"n":7},{"t":16.5,"f":13.6,"g":14.2,"n":5},{"t":16.5,"f":12.2,"g":13,"n":7},{"t":16.5,"f":11,"g":11.8,"n":4},{"t":16.5,"f":9.8,"g":10.4,"n":2},{"t":16.5,"f":8.8,"g":9.4,"n":4},{"t":16.5,"f":7.6,"g":8.2,"n":5},{"t":16.5,"f":6.8,"g":7.2,"n":2},{"t":16.67,"f":21.6,"g":22.6,"n":2},{"t":16.67,"f":20.2,"g":20.6,"n":4},{"t":16.67,"f":18.6,"g":19.2,"n":2},{"t":16.67,"f":17,"g":17.8,"n":2},{"t":16.67,"f":15.2,"g":16,"n":5},{"t":16.67,"f":14,"g":14.8,"n":2},{"t":16.67,"f":12.6,"g":13.4,"n":4},{"t":16.67,"f":11.4,"g":12.2,"n":7},{"t":16.67,"f":10.2,"g":11,"n":2},{"t":16.67,"f":9,"g":9.6,"n":4},{"t":16.67,"f":8,"g":8.6,"n":2},{"t":16.67,"f":7,"g":7.4,"n":2},{"t":16.83,"f":19.4,"g":20,"n":2},{"t":16.83,"f":18.2,"g":18.6,"n":4},{"t":16.83,"f":16.8,"g":17.6,"n":2},{"t":16.83,"f":15.6,"g":16.4,"n":2},{"t":16.83,"f":14.6,"g":15.2,"n":4},{"t":16.83,"f":13.4,"g":14,"n":5},{"t":16.83,"f":12,"g":12.8,"n":5},{"t":16.83,"f":10.8,"g":11.6,"n":4},{"t":16.83,"f":9.6,"g":10.2,"n":4},{"t":16.83,"f":8.6,"g":9.2,"n":2},{"t":16.83,"f":7.4,"g":8,"n":4},{"t":16.83,"f":6.4,"g":7,"n":2},{"t":17,"f":20,"g":20.6,"n":2},{"t":17,"f":18.6,"g":19.2,"n":2},{"t":17,"f":17.2,"g":18,"n":2},{"t":17,"f":15.8,"g":16.4,"n":4},{"t":17,"f":14.2,"g":15,"n":2},{"t":17,"f":13,"g":13.6,"n":4},{"t":17,"f":11.6,"g":12.4,"n":7},{"t":17,"f":10.4,"g":11.2,"n":4},{"t":17,"f":9.2,"g":10,"n":2},{"t":17,"f":8,"g":8.8,"n":5},{"t":17,"f":6.8,"g":7.4,"n":2},{"t":17,"f":5.8,"g":6.2,"n":2},{"t":17.17,"f":20.8,"g":21.2,"n":2},{"t":17.17,"f":19,"g":19.4,"n":2},{"t":17.17,"f":17.6,"g":18.2,"n":2},{"t":17.17,"f":16.2,"g":16.8,"n":2},{"t":17.17,"f":15,"g":15.6,"n":5},{"t":17.17,"f":13.6,"g":14.2,"n":4},{"t":17.17,"f":12.2,"g":13,"n":5},{"t":17.17,"f":11,"g":11.8,"n":8},{"t":17.17,"f":9.8,"g":10.6,"n":5},{"t":17.17,"f":8.6,"g":9.4,"n":4},{"t":17.17,"f":7.4,"g":8.2,"n":2},{"t":17.17,"f":6.2,"g":6.8,"n":2},{"t":17.17,"f":5.4,"g":5.8,"n":2},{"t":17.33,"f":21.2,"g":21.6,"n":2},{"t":17.33,"f":19.8,"g":20.2,"n":2},{"t":17.33,"f":18.2,"g":18.6,"n":4},{"t":17.33,"f":16.6,"g":17.4,"n":2},{"t":17.33,"f":15.2,"g":16,"n":2},{"t":17.33,"f":13.8,"g":14.6,"n":5},{"t":17.33,"f":12.8,"g":13.4,"n":7},{"t":17.33,"f":11.4,"g":12.2,"n":4},{"t":17.33,"f":10.2,"g":11,"n":7},{"t":17.33,"f":9,"g":9.8,"n":2},{"t":17.33,"f":7.8,"g":8.4,"n":5},{"t":17.33,"f":6.6,"g":7.2,"n":4},{"t":17.33,"f":5.2,"g":5.6,"n":2},{"t":17.33,"f":4.4,"g":4.8,"n":2},{"t":17.5,"f":20.2,"g":21,"n":2},{"t":17.5,"f":18.6,"g":19,"n":4},{"t":17.5,"f":17,"g":17.6,"n":4},{"t":17.5,"f":15.6,"g":16.2,"n":2},{"t":17.5,"f":14.2,"g":15,"n":4},{"t":17.5,"f":13,"g":13.8,"n":7},{"t":17.5,"f":11.8,"g":12.6,"n":5},{"t":17.5,"f":10.2,"g":11,"n":10},{"t":17.5,"f":9,"g":9.8,"n":4},{"t":17.5,"f":7.8,"g":8.6,"n":2},{"t":17.5,"f":6.6,"g":7.2,"n":5},{"t":17.5,"f":5.4,"g":6,"n":2},{"t":17.5,"f":4,"g":4.6,"n":2},{"t":17.67,"f":21.6,"g":22,"n":2},{"t":17.67,"f":19.6,"g":20.2,"n":2},{"t":17.67,"f":18.2,"g":18.8,"n":2},{"t":17.67,"f":16.8,"g":17.4,"n":5},{"t":17.67,"f":15.4,"g":16.2,"n":5},{"t":17.67,"f":14,"g":14.8,"n":2},{"t":17.67,"f":12.4,"g":13.2,"n":8},{"t":17.67,"f":11,"g":11.8,"n":5},{"t":17.67,"f":9.6,"g":10.4,"n":8},{"t":17.67,"f":8.4,"g":9.2,"n":5},{"t":17.67,"f":7,"g":7.8,"n":2},{"t":17.67,"f":5.8,"g":6.4,"n":4},{"t":17.67,"f":4.4,"g":5,"n":2},{"t":17.67,"f":3.6,"g":4,"n":2},{"t":17.83,"f":21.4,"g":21.8,"n":2},{"t":17.83,"f":20.4,"g":20.8,"n":2},{"t":17.83,"f":18.8,"g":19.4,"n":4},{"t":17.83,"f":17.4,"g":18,"n":2},{"t":17.83,"f":15.8,"g":16.6,"n":2},{"t":17.83,"f":14.6,"g":15.2,"n":7},{"t":17.83,"f":13,"g":13.8,"n":4},{"t":17.83,"f":11.6,"g":12.4,"n":8},{"t":17.83,"f":10.2,"g":11,"n":5},{"t":17.83,"f":9,"g":9.8,"n":7},{"t":17.83,"f":7.6,"g":8.4,"n":4},{"t":17.83,"f":6.2,"g":7,"n":2},{"t":17.83,"f":5,"g":5.6,"n":4},{"t":17.83,"f":3.4,"g":3.8,"n":2},{"t":18,"f":22,"g":22.6,"n":2},{"t":18,"f":20.2,"g":21,"n":2},{"t":18,"f":18.8,"g":19.2,"n":2},{"t":18,"f":17.2,"g":17.8,"n":5},{"t":18,"f":15.8,"g":16.4,"n":7},{"t":18,"f":14.4,"g":15.2,"n":4},{"t":18,"f":13,"g":13.6,"n":8},{"t":18,"f":11.8,"g":12.6,"n":5},{"t":18,"f":10.4,"g":11.2,"n":11},{"t":18,"f":9.2,"g":10,"n":4},{"t":18,"f":7.8,"g":8.6,"n":5},{"t":18,"f":6.4,"g":7.2,"n":2},{"t":18,"f":5,"g":5.8,"n":4},{"t":18,"f":3.8,"g":4.4,"n":2},{"t":18,"f":2.8,"g":3.2,"n":2},{"t":18.17,"f":22.2,"g":23,"n":2},{"t":18.17,"f":20.6,"g":21,"n":4},{"t":18.17,"f":19,"g":19.6,"n":2},{"t":18.17,"f":17.8,"g":18.2,"n":8},{"t":18.17,"f":16.4,"g":17,"n":2},{"t":18.17,"f":14.8,"g":15.6,"n":5},{"t":18.17,"f":13.2,"g":14,"n":7},{"t":18.17,"f":12,"g":12.8,"n":10},{"t":18.17,"f":10.8,"g":11.6,"n":5},{"t":18.17,"f":9.6,"g":10.4,"n":8},{"t":18.17,"f":8.2,"g":9,"n":4},{"t":18.17,"f":6.8,"g":7.6,"n":5},{"t":18.17,"f":5.4,"g":6,"n":2},{"t":18.17,"f":4,"g":4.6,"n":4},{"t":18.17,"f":2.6,"g":3,"n":2},{"t":18.33,"f":21.4,"g":22,"n":2},{"t":18.33,"f":19.8,"g":20.4,"n":2},{"t":18.33,"f":18.2,"g":18.8,"n":4},{"t":18.33,"f":16.8,"g":17.4,"n":5},{"t":18.33,"f":15.2,"g":16,"n":4},{"t":18.33,"f":13.8,"g":14.6,"n":8},{"t":18.33,"f":12.4,"g":13.2,"n":5},{"t":18.33,"f":11,"g":11.8,"n":8},{"t":18.33,"f":9.8,"g":10.6,"n":7},{"t":18.33,"f":8.4,"g":9.2,"n":5},{"t":18.33,"f":7.2,"g":8,"n":7},{"t":18.33,"f":5.8,"g":6.4,"n":4},{"t":18.33,"f":4.6,"g":5.2,"n":2},{"t":18.33,"f":3.2,"g":3.8,"n":2},{"t":18.33,"f":2.2,"g":2.6,"n":2},{"t":18.5,"f":22.6,"g":23.2,"n":2},{"t":18.5,"f":20.8,"g":21.6,"n":2},{"t":18.5,"f":19,"g":19.6,"n":4},{"t":18.5,"f":17.4,"g":18,"n":4},{"t":18.5,"f":15.6,"g":16.4,"n":2},{"t":18.5,"f":14.2,"g":15,"n":5},{"t":18.5,"f":13,"g":13.6,"n":10},{"t":18.5,"f":11.8,"g":12.6,"n":4},{"t":18.5,"f":10.6,"g":11.4,"n":7},{"t":18.5,"f":9,"g":9.8,"n":10},{"t":18.5,"f":7.8,"g":8.4,"n":13},{"t":18.5,"f":6.4,"g":7.2,"n":4},{"t":18.5,"f":5,"g":5.6,"n":4},{"t":18.5,"f":3.6,"g":4.2,"n":2},{"t":18.5,"f":1.6,"g":2,"n":2},{"t":18.67,"f":21.8,"g":22.4,"n":2},{"t":18.67,"f":20,"g":20.8,"n":2},{"t":18.67,"f":18,"g":18.8,"n":5},{"t":18.67,"f":16.4,"g":17,"n":7},{"t":18.67,"f":15,"g":15.8,"n":4},{"t":18.67,"f":13.6,"g":14.4,"n":7},{"t":18.67,"f":12.2,"g":13,"n":8},{"t":18.67,"f":11,"g":11.8,"n":5},{"t":18.67,"f":9.8,"g":10.6,"n":8},{"t":18.67,"f":8.6,"g":9.4,"n":5},{"t":18.67,"f":7,"g":7.8,"n":10},{"t":18.67,"f":5.6,"g":6.4,"n":5},{"t":18.67,"f":4.2,"g":4.8,"n":4},{"t":18.67,"f":2.6,"g":3.2,"n":2},{"t":18.83,"f":23,"g":23.4,"n":2},{"t":18.83,"f":21.2,"g":22,"n":2},{"t":18.83,"f":19.4,"g":20,"n":7},{"t":18.83,"f":17.8,"g":18.4,"n":4},{"t":18.83,"f":16,"g":16.8,"n":5},{"t":18.83,"f":14.6,"g":15.4,"n":7},{"t":18.83,"f":13.2,"g":14,"n":5},{"t":18.83,"f":11.8,"g":12.6,"n":11},{"t":18.83,"f":10.4,"g":11.2,"n":8},{"t":18.83,"f":9,"g":9.8,"n":4},{"t":18.83,"f":7.6,"g":8.4,"n":7},{"t":18.83,"f":6.2,"g":7,"n":4},{"t":18.83,"f":4.8,"g":5.4,"n":2},{"t":18.83,"f":3.2,"g":3.8,"n":4},{"t":18.83,"f":1.6,"g":2.2,"n":2},{"t":19,"f":22.4,"g":23,"n":4},{"t":19,"f":20.6,"g":21.4,"n":2},{"t":19,"f":18.8,"g":19.6,"n":2},{"t":19,"f":17,"g":17.8,"n":2},{"t":19,"f":15.4,"g":16.2,"n":8},{"t":19,"f":14,"g":14.8,"n":5},{"t":19,"f":12.6,"g":13.4,"n":7},{"t":19,"f":11.2,"g":12,"n":8},{"t":19,"f":10,"g":10.8,"n":10},{"t":19,"f":8.4,"g":9.2,"n":7},{"t":19,"f":7,"g":7.8,"n":8},{"t":19,"f":6.2,"g":6.6,"n":17},{"t":19,"f":5.2,"g":6,"n":5},{"t":19,"f":4,"g":4.6,"n":2},{"t":19,"f":2.6,"g":3.2,"n":2},{"t":19.17,"f":21.8,"g":22.6,"n":2},{"t":19.17,"f":20,"g":20.6,"n":2},{"t":19.17,"f":18.2,"g":19,"n":4},{"t":19.17,"f":16.6,"g":17.4,"n":5},{"t":19.17,"f":15,"g":15.8,"n":7},{"t":19.17,"f":13.6,"g":14.4,"n":8},{"t":19.17,"f":12.2,"g":13,"n":7},{"t":19.17,"f":10.8,"g":11.6,"n":13},{"t":19.17,"f":9.4,"g":10.2,"n":10},{"t":19.17,"f":8,"g":8.8,"n":5},{"t":19.17,"f":6.6,"g":7.4,"n":7},{"t":19.17,"f":5,"g":5.8,"n":4},{"t":19.17,"f":3.4,"g":4.2,"n":8},{"t":19.17,"f":1.8,"g":2.2,"n":10},{"t":19.33,"f":22.8,"g":23.6,"n":2},{"t":19.33,"f":20.8,"g":21.4,"n":2},{"t":19.33,"f":19.4,"g":20,"n":5},{"t":19.33,"f":17.6,"g":18.4,"n":2},{"t":19.33,"f":16,"g":16.8,"n":4},{"t":19.33,"f":14.6,"g":15.4,"n":8},{"t":19.33,"f":13,"g":13.8,"n":8},{"t":19.33,"f":11.8,"g":12.6,"n":5},{"t":19.33,"f":10.4,"g":11.2,"n":8},{"t":19.33,"f":9,"g":9.8,"n":7},{"t":19.33,"f":7.6,"g":8.4,"n":10},{"t":19.33,"f":6.2,"g":7,"n":5},{"t":19.33,"f":4.6,"g":5.4,"n":2},{"t":19.33,"f":3,"g":3.6,"n":5},{"t":19.5,"f":22,"g":22.8,"n":2},{"t":19.5,"f":20.2,"g":21,"n":2},{"t":19.5,"f":18.6,"g":19.2,"n":4},{"t":19.5,"f":17,"g":17.6,"n":5},{"t":19.5,"f":15.4,"g":16.2,"n":4},{"t":19.5,"f":13.8,"g":14.6,"n":7},{"t":19.5,"f":12.4,"g":13.2,"n":8},{"t":19.5,"f":11,"g":11.8,"n":7},{"t":19.5,"f":9.8,"g":10.2,"n":16},{"t":19.5,"f":8.4,"g":9.2,"n":8},{"t":19.5,"f":7,"g":7.8,"n":5},{"t":19.5,"f":5.4,"g":6.2,"n":7},{"t":19.5,"f":3.8,"g":4.6,"n":4},{"t":19.5,"f":2.2,"g":2.8,"n":2},{"t":19.67,"f":21.4,"g":22.2,"n":2},{"t":19.67,"f":19.6,"g":20.4,"n":2},{"t":19.67,"f":18,"g":18.6,"n":2},{"t":19.67,"f":16.2,"g":17,"n":7},{"t":19.67,"f":14.6,"g":15.4,"n":5},{"t":19.67,"f":13,"g":13.8,"n":8},{"t":19.67,"f":11.6,"g":12.4,"n":10},{"t":19.67,"f":10.2,"g":11,"n":7},{"t":19.67,"f":8.8,"g":9.6,"n":5},{"t":19.67,"f":7.2,"g":8,"n":8},{"t":19.67,"f":5.8,"g":6.6,"n":10},{"t":19.67,"f":4.2,"g":5,"n":2},{"t":19.67,"f":2.8,"g":3.4,"n":4},{"t":19.83,"f":22.4,"g":23,"n":2},{"t":19.83,"f":20.4,"g":21.2,"n":2},{"t":19.83,"f":18.8,"g":19.4,"n":2},{"t":19.83,"f":17.2,"g":17.8,"n":2},{"t":19.83,"f":15.6,"g":16.4,"n":5},{"t":19.83,"f":14,"g":14.8,"n":7},{"t":19.83,"f":12.4,"g":13.2,"n":7},{"t":19.83,"f":11,"g":11.8,"n":11},{"t":19.83,"f":10.2,"g":10.8,"n":7},{"t":19.83,"f":8.6,"g":9.4,"n":5},{"t":19.83,"f":7,"g":7.8,"n":2},{"t":19.83,"f":5.4,"g":6.2,"n":8},{"t":19.83,"f":3.6,"g":4.4,"n":2},{"t":19.83,"f":1.8,"g":2.4,"n":4},{"t":20,"f":21.8,"g":22.4,"n":2},{"t":20,"f":19.8,"g":20.6,"n":2},{"t":20,"f":17.8,"g":18.6,"n":4},{"t":20,"f":16.2,"g":17,"n":2},{"t":20,"f":14.6,"g":15.4,"n":8},{"t":20,"f":13.2,"g":14,"n":10},{"t":20,"f":11.8,"g":12.6,"n":7},{"t":20,"f":10.2,"g":11,"n":8},{"t":20,"f":8.8,"g":9.6,"n":7},{"t":20,"f":7.2,"g":8,"n":5},{"t":20,"f":6,"g":6.6,"n":10},{"t":20,"f":4.6,"g":5.2,"n":2},{"t":20,"f":2.6,"g":3.2,"n":2},{"t":20.17,"f":20.8,"g":21.6,"n":2},{"t":20.17,"f":19,"g":19.6,"n":2},{"t":20.17,"f":17.4,"g":18.2,"n":5},{"t":20.17,"f":15.6,"g":16.4,"n":2},{"t":20.17,"f":14,"g":14.8,"n":7},{"t":20.17,"f":12.6,"g":13.4,"n":7},{"t":20.17,"f":11,"g":11.8,"n":8},{"t":20.17,"f":10,"g":10.8,"n":7},{"t":20.17,"f":8.4,"g":9.2,"n":8},{"t":20.17,"f":6.8,"g":7.6,"n":2},{"t":20.17,"f":5.2,"g":6,"n":5},{"t":20.17,"f":3.8,"g":4.4,"n":4},{"t":20.17,"f":2,"g":2.6,"n":7},{"t":20.33,"f":21.8,"g":22.4,"n":4},{"t":20.33,"f":20,"g":20.8,"n":2},{"t":20.33,"f":18.2,"g":19,"n":2},{"t":20.33,"f":16.4,"g":17.2,"n":7},{"t":20.33,"f":14.8,"g":15.6,"n":7},{"t":20.33,"f":13.4,"g":14.2,"n":8},{"t":20.33,"f":11.8,"g":12.6,"n":7},{"t":20.33,"f":10.2,"g":11,"n":8},{"t":20.33,"f":9,"g":9.6,"n":5},{"t":20.33,"f":7.4,"g":8.2,"n":5},{"t":20.33,"f":5.8,"g":6.6,"n":8},{"t":20.33,"f":4.4,"g":5,"n":2},{"t":20.33,"f":1.6,"g":2.2,"n":7},{"t":20.5,"f":21,"g":21.6,"n":2},{"t":20.5,"f":19.4,"g":20.2,"n":5},{"t":20.5,"f":17.4,"g":18,"n":4},{"t":20.5,"f":15.6,"g":16.4,"n":7},{"t":20.5,"f":14,"g":14.8,"n":8},{"t":20.5,"f":12.4,"g":13.2,"n":10},{"t":20.5,"f":10.2,"g":11,"n":10},{"t":20.5,"f":8.8,"g":9.6,"n":7},{"t":20.5,"f":7,"g":7.8,"n":10},{"t":20.5,"f":5.4,"g":6.2,"n":7},{"t":20.5,"f":3.2,"g":3.8,"n":2},{"t":20.67,"f":21.6,"g":22.4,"n":2},{"t":20.67,"f":20,"g":20.6,"n":2},{"t":20.67,"f":18.2,"g":19,"n":5},{"t":20.67,"f":16.6,"g":17.2,"n":2},{"t":20.67,"f":14.8,"g":15.6,"n":10},{"t":20.67,"f":13,"g":13.8,"n":7},{"t":20.67,"f":11.4,"g":12.2,"n":8},{"t":20.67,"f":10.4,"g":10.8,"n":19},{"t":20.67,"f":9,"g":9.8,"n":8},{"t":20.67,"f":7.4,"g":8.2,"n":4},{"t":20.67,"f":5.9,"g":6.3,"n":14},{"t":20.67,"f":4.4,"g":5,"n":8},{"t":20.67,"f":2,"g":2.6,"n":2},{"t":20.83,"f":20.8,"g":21.4,"n":2},{"t":20.83,"f":19,"g":19.8,"n":2},{"t":20.83,"f":17.4,"g":18,"n":5},{"t":20.83,"f":15.6,"g":16.4,"n":7},{"t":20.83,"f":13.8,"g":14.6,"n":8},{"t":20.83,"f":12.2,"g":13,"n":11},{"t":20.83,"f":10.2,"g":11,"n":8},{"t":20.83,"f":8.6,"g":9.4,"n":5},{"t":20.83,"f":6.8,"g":7.6,"n":4},{"t":20.83,"f":5,"g":5.8,"n":2},{"t":20.83,"f":1.6,"g":2,"n":2},{"t":21,"f":21.4,"g":22,"n":2},{"t":21,"f":19.6,"g":20.4,"n":5},{"t":21,"f":18,"g":18.6,"n":7},{"t":21,"f":16.2,"g":17,"n":8},{"t":21,"f":14.4,"g":15.2,"n":10},{"t":21,"f":12.8,"g":13.6,"n":8},{"t":21,"f":10.2,"g":11,"n":11},{"t":21,"f":8.8,"g":9.4,"n":7},{"t":21,"f":7,"g":7.8,"n":5},{"t":21,"f":5.2,"g":6,"n":4},{"t":21,"f":3.6,"g":4.2,"n":4},{"t":21,"f":2.2,"g":2.8,"n":5},{"t":21.17,"f":20.2,"g":21,"n":4},{"t":21.17,"f":18.6,"g":19.4,"n":5},{"t":21.17,"f":16.8,"g":17.6,"n":7},{"t":21.17,"f":15,"g":15.8,"n":8},{"t":21.17,"f":13.2,"g":14,"n":10},{"t":21.17,"f":11.4,"g":12.2,"n":10},{"t":21.17,"f":9.6,"g":10.4,"n":8},{"t":21.17,"f":7.8,"g":8.6,"n":10},{"t":21.17,"f":6,"g":6.8,"n":5},{"t":21.17,"f":4.2,"g":5,"n":5},{"t":21.17,"f":2.4,"g":3,"n":4},{"t":21.33,"f":21.6,"g":22.4,"n":4},{"t":21.33,"f":19.8,"g":20.6,"n":5},{"t":21.33,"f":17.8,"g":18.6,"n":5},{"t":21.33,"f":16,"g":16.8,"n":7},{"t":21.33,"f":14,"g":14.8,"n":10},{"t":21.33,"f":12.2,"g":13,"n":8},{"t":21.33,"f":10.2,"g":11,"n":10},{"t":21.33,"f":8.4,"g":9.2,"n":11},{"t":21.33,"f":6.2,"g":6.6,"n":17},{"t":21.33,"f":4.6,"g":5.4,"n":8},{"t":21.33,"f":2.4,"g":3,"n":5},{"t":21.45,"f":11,"g":13,"n":8},{"t":21.45,"f":7.2,"g":9.4,"n":10},{"t":21.45,"f":15.4,"g":18,"n":5},{"t":21.45,"f":3.4,"g":5,"n":8}],
"dkA":[{"a":3.9,"b":11.25,"lo":1.3,"hi":5,"s":"o"},{"a":4.23,"b":10.92,"lo":1.3,"hi":5,"s":"i"}],
"dkB":[{"a":3.9,"b":11.25,"s":"o"},{"a":4.23,"b":10.92,"s":"i"}],
"lgA":[{"k":"Dark period"}],
"lgB":[{"k":"SEL, dB re 1μPa².s"},{"k":"Dissolved Oxygen, mgl⁻¹"},{"k":"Dark period"}],
"sel":[{"t":0,"lo":91.88,"m":93.39,"hi":94.49},{"t":0.2,"lo":92.15,"m":93.6,"hi":94.7},{"t":0.33,"lo":92.3,"m":93.57,"hi":94.64},{"t":0.47,"lo":92.4,"m":93.72,"hi":94.71},{"t":0.67,"lo":91.66,"m":93.41,"hi":94.66},{"t":0.84,"lo":91.58,"m":93.32,"hi":94.6},{"t":0.98,"lo":91,"m":93.14,"hi":94.56},{"t":1.16,"lo":90.78,"m":92.75,"hi":94.14},{"t":1.35,"lo":91,"m":92.93,"hi":94.2},{"t":1.5,"lo":91,"m":93.11,"hi":94.53},{"t":1.65,"lo":91,"m":93.55,"hi":95.19},{"t":1.83,"lo":90.27,"m":94.2,"hi":96.1},{"t":1.96,"lo":89.8,"m":94.8,"hi":97.2},{"t":2.03,"lo":89.8,"m":95.1,"hi":97.65},{"t":2.17,"lo":90.1,"m":95.76,"hi":98.15},{"t":2.37,"lo":91.66,"m":96.7,"hi":98.8},{"t":2.5,"lo":93.06,"m":97.5,"hi":99.1},{"t":2.64,"lo":94.3,"m":98.23,"hi":99.63},{"t":2.85,"lo":96.58,"m":98.8,"hi":100.15},{"t":3,"lo":97.3,"m":99.38,"hi":100.4},{"t":3.19,"lo":98.3,"m":99.75,"hi":100.58},{"t":3.39,"lo":98.97,"m":100.04,"hi":100.65},{"t":3.59,"lo":99.54,"m":100.18,"hi":100.72},{"t":3.8,"lo":99.7,"m":100.25,"hi":100.7},{"t":3.89,"lo":99.79,"m":100.25,"hi":100.7},{"t":3.95,"lo":99.1,"m":100.2,"hi":100.78},{"t":4.2,"lo":98.31,"m":99.88,"hi":100.9},{"t":4.41,"lo":97.5,"m":99.55,"hi":100.86},{"t":4.61,"lo":96.92,"m":99.15,"hi":100.6},{"t":4.68,"lo":96.85,"m":99.05,"hi":100.53},{"t":5.02,"lo":96.6,"m":98.97,"hi":100.37},{"t":5.16,"lo":96.54,"m":98.64,"hi":100.1},{"t":5.36,"lo":96.2,"m":98.19,"hi":99.55},{"t":5.5,"lo":96.05,"m":98.05,"hi":99.42},{"t":5.7,"lo":96.2,"m":98.15,"hi":99.46},{"t":5.9,"lo":96.58,"m":98.45,"hi":99.62},{"t":5.97,"lo":96.9,"m":98.56,"hi":99.65},{"t":6.1,"lo":96.67,"m":98.48,"hi":99.67},{"t":6.3,"lo":96.58,"m":98.35,"hi":99.68},{"t":6.5,"lo":96,"m":97.98,"hi":99.38},{"t":6.65,"lo":95.98,"m":97.5,"hi":98.6},{"t":6.85,"lo":95.9,"m":97.45,"hi":98.58},{"t":7,"lo":95.4,"m":97.3,"hi":98.57},{"t":7.33,"lo":95.07,"m":97,"hi":98.56},{"t":7.47,"lo":95.2,"m":96.67,"hi":97.86},{"t":7.67,"lo":95.38,"m":96.16,"hi":96.83},{"t":7.85,"lo":95.1,"m":96.15,"hi":96.75},{"t":8,"lo":94.86,"m":95.88,"hi":96.72},{"t":8.3,"lo":94.6,"m":95.74,"hi":96.67},{"t":8.48,"lo":94.53,"m":95.78,"hi":96.79},{"t":8.66,"lo":94.74,"m":96.11,"hi":97.16},{"t":8.82,"lo":94.15,"m":95.9,"hi":97.2},{"t":9.16,"lo":94.12,"m":95.9,"hi":97.24},{"t":9.32,"lo":94.2,"m":96.02,"hi":97.25},{"t":9.5,"lo":94.15,"m":95.95,"hi":97.25},{"t":9.7,"lo":94.3,"m":96.03,"hi":97.26},{"t":9.85,"lo":94.45,"m":96.42,"hi":97.78},{"t":10,"lo":94.74,"m":96.54,"hi":97.82},{"t":10.15,"lo":94.74,"m":96.5,"hi":97.7},{"t":10.35,"lo":93.84,"m":96.05,"hi":97.57},{"t":10.5,"lo":94.53,"m":96.38,"hi":97.67},{"t":10.65,"lo":94.2,"m":96.19,"hi":97.55},{"t":10.87,"lo":94.28,"m":96.24,"hi":97.57},{"t":11.03,"lo":94.15,"m":96.16,"hi":97.49},{"t":11.27,"lo":94.61,"m":96.58,"hi":97.87},{"t":11.49,"lo":94.75,"m":96.34,"hi":97.5},{"t":11.69,"lo":94.5,"m":96.14,"hi":97.3},{"t":11.82,"lo":94.44,"m":96.07,"hi":97.27},{"t":11.99,"lo":95.23,"m":96.34,"hi":97.26},{"t":12.16,"lo":95.23,"m":96.34,"hi":97.25},{"t":12.37,"lo":95.45,"m":96.54,"hi":97.4},{"t":12.5,"lo":95.28,"m":96.75,"hi":97.98},{"t":12.67,"lo":95.55,"m":97.03,"hi":98.15},{"t":12.91,"lo":95.62,"m":97.13,"hi":98.25},{"t":13.12,"lo":95.9,"m":97.57,"hi":98.65},{"t":13.35,"lo":96.7,"m":97.87,"hi":98.8},{"t":13.66,"lo":97.12,"m":98.14,"hi":98.97},{"t":13.8,"lo":96.95,"m":98.8,"hi":99.8},{"t":14,"lo":96.95,"m":99.61,"hi":100.9},{"t":14.27,"lo":97.4,"m":100.52,"hi":102},{"t":14.47,"lo":98.07,"m":100.89,"hi":102.49},{"t":14.68,"lo":98.97,"m":101.33,"hi":102.9},{"t":14.88,"lo":99.86,"m":101.68,"hi":103.1},{"t":15.09,"lo":101,"m":102.07,"hi":103.18},{"t":15.38,"lo":101.92,"m":102.49,"hi":102.98},{"t":15.7,"lo":101.8,"m":102.47,"hi":103},{"t":15.97,"lo":101.68,"m":102.34,"hi":103},{"t":16.17,"lo":101.19,"m":102.05,"hi":102.73},{"t":16.38,"lo":101.04,"m":101.8,"hi":102.4},{"t":16.58,"lo":101.05,"m":101.7,"hi":102.25},{"t":16.99,"lo":101,"m":101.65,"hi":102.19},{"t":17.19,"lo":100.94,"m":101.78,"hi":102.47},{"t":17.53,"lo":101.04,"m":101.88,"hi":102.58},{"t":17.8,"lo":101.4,"m":102.07,"hi":102.68},{"t":18.07,"lo":101.8,"m":102.42,"hi":102.8},{"t":18.35,"lo":101.98,"m":102.66,"hi":103.16},{"t":18.65,"lo":102.1,"m":102.84,"hi":103.5},{"t":18.96,"lo":102.16,"m":102.96,"hi":103.52},{"t":19.16,"lo":102.53,"m":103.06,"hi":103.53},{"t":19.5,"lo":102.55,"m":103.11,"hi":103.55},{"t":19.91,"lo":102.53,"m":103.04,"hi":103.5},{"t":20.36,"lo":102.51,"m":102.91,"hi":103.23},{"t":20.66,"lo":102.51,"m":103,"hi":103.5},{"t":21,"lo":102.6,"m":103.18,"hi":103.66},{"t":21.34,"lo":102.96,"m":103.38,"hi":103.72},{"t":21.47,"lo":102.95,"m":103.38,"hi":103.75}],
"ox":[{"t":0,"o":5.43},{"t":0.2,"o":6.09},{"t":0.54,"o":6.56},{"t":0.94,"o":7.25},{"t":1.2,"o":7.71},{"t":1.28,"o":7.83},{"t":1.62,"o":8.44},{"t":1.96,"o":9.42},{"t":2.17,"o":9.74},{"t":2.33,"o":10},{"t":2.5,"o":10.52},{"t":2.64,"o":10.67},{"t":2.98,"o":11.45},{"t":3.19,"o":11.62},{"t":3.32,"o":11.71},{"t":3.66,"o":12.17},{"t":4.03,"o":12.52},{"t":4.61,"o":12.06},{"t":5.22,"o":11.68},{"t":5.77,"o":11.19},{"t":6.11,"o":11.01},{"t":6.79,"o":10.58},{"t":7.33,"o":10.2},{"t":8,"o":9.89},{"t":8.42,"o":9.63},{"t":9.5,"o":9.07},{"t":9.98,"o":8.79},{"t":10.86,"o":8.41},{"t":11.24,"o":8.15},{"t":11.28,"o":8.18},{"t":11.69,"o":8.58},{"t":12.1,"o":9.13},{"t":12.5,"o":9.71},{"t":13.18,"o":10.67},{"t":13.59,"o":11.16},{"t":13.93,"o":11.48},{"t":14.11,"o":11.68},{"t":14.13,"o":11.91},{"t":14.2,"o":11.59},{"t":14.34,"o":11.48},{"t":14.47,"o":11.62},{"t":14.81,"o":11.82},{"t":15.09,"o":12.06},{"t":15.22,"o":12.09},{"t":15.76,"o":12.49},{"t":16.31,"o":12.78},{"t":16.85,"o":13.07},{"t":17.4,"o":13.41},{"t":18.07,"o":13.7},{"t":18.62,"o":13.9},{"t":19.3,"o":14.11},{"t":19.97,"o":14.31},{"t":20.52,"o":14.49},{"t":21.2,"o":14.63},{"t":21.72,"o":14.72}]},
"hconcat":[{"spacing":11,"vconcat":[
{"width":533,"height":49,"view":{"stroke":null},"title":{"text":"A","anchor":"start","frame":"group","dx":-48,"offset":-27,"fontSize":28,"fontWeight":"bold","color":"#000000"},"layer":[{"data":{"name":"cb"},"mark":{"type":"rect"},"encoding":{"x":{"field":"lo","type":"quantitative","scale":{"domain":[0,20],"nice":false},"axis":{"orient":"top","offset":-17,"values":[0,5,10,15,20],"title":"No. of bubble events per 195 Hz bin per 10 min","titleFontSize":19,"titlePadding":4,"labelPadding":11}},"x2":{"field":"hi"},"y":{"datum":0,"type":"quantitative","scale":{"domain":[0,49],"nice":false},"axis":null},"y2":{"datum":32},"fill":{"field":"n","type":"quantitative","legend":null,"scale":{"type":"threshold","domain":[1.54,3.08,4.62,6.15,7.69,9.23,10.77,12.31,13.85,15.38,16.92,18.46],"range":["#ffffff","#ffdd00","#ffb000","#ff8c00","#ff6400","#ff3800","#ff1000","#e00000","#b00000","#880000","#5c0000","#300000","#100000"]}}}},{"data":{"name":"cf"},"mark":{"type":"rect","fillOpacity":0,"stroke":"#7f7f7f","strokeWidth":1.5},"encoding":{"x":{"field":"lo","type":"quantitative"},"x2":{"field":"hi"},"y":{"datum":0,"type":"quantitative"},"y2":{"datum":32}}}]},
{"width":533,"height":497,"layer":[
{"data":{"name":"dn"},"mark":{"type":"rect","width":4.1},"encoding":{"x":{"field":"t","type":"quantitative","scale":{"domain":[0,21.5],"nice":false},"axis":{"values":[1,2,3,4,5,6,7,8,9,10,11,12,13,14,15,16,17,18,19,20,21],"labelExpr":"datum.value % 2 == 1 ? format(datum.value,'02d') : ''","title":"Elapsed time, HH","titlePadding":5,"labelPadding":16}},"y":{"field":"f","type":"quantitative","scale":{"domain":[1.3,39.95],"nice":false},"axis":{"values":[5,10,15,20,25,30,35],"title":"Peak Frequency, kHz","titlePadding":7}},"y2":{"field":"g"},"fill":{"field":"n","type":"quantitative","legend":null,"scale":{"type":"threshold","domain":[1.54,3.08,4.62,6.15,7.69,9.23,10.77,12.31,13.85,15.38,16.92,18.46],"range":["#ffffff","#ffdd00","#ffb000","#ff8c00","#ff6400","#ff3800","#ff1000","#e00000","#b00000","#880000","#5c0000","#300000","#100000"]}}}},
{"data":{"name":"sp"},"mark":{"type":"rect","width":4.1,"height":2.6},"encoding":{"x":{"field":"t","type":"quantitative","axis":null},"y":{"field":"f","type":"quantitative","axis":null},"fill":{"field":"n","type":"quantitative","legend":null,"scale":{"type":"threshold","domain":[1.54,3.08,4.62,6.15,7.69,9.23,10.77,12.31,13.85,15.38,16.92,18.46],"range":["#ffffff","#ffdd00","#ffb000","#ff8c00","#ff6400","#ff3800","#ff1000","#e00000","#b00000","#880000","#5c0000","#300000","#100000"]}}}},
{"data":{"name":"dkA"},"mark":{"type":"rect","stroke":"#444444","strokeWidth":1,"strokeOpacity":1},"encoding":{"x":{"field":"a","type":"quantitative","axis":{"orient":"top","values":[1,2,3,4,5,6,7,8,9,10,11,12,13,14,15,16,17,18,19,20,21],"labels":false,"title":null}},"x2":{"field":"b"},"y":{"field":"lo","type":"quantitative","axis":{"orient":"right","values":[5,10,15,20,25,30,35],"labels":false,"title":null}},"y2":{"field":"hi"},"fillOpacity":{"field":"s","type":"nominal","legend":null,"scale":{"domain":["o","i"],"range":[0.3,0.45]}},"fill":{"value":"#999999"}}},
{"data":{"name":"lgA"},"mark":{"type":"point","filled":true,"opacity":0},"encoding":{"shape":{"field":"k","type":"nominal","scale":{"domain":["Dark period"],"range":["M-2,-1H2V1H-2Z"]},"legend":{"title":null,"orient":"none","legendX":369,"legendY":79,"padding":4,"symbolSize":324,"symbolOffset":7,"labelFontSize":18.7,"labelColor":"#222222","strokeColor":"#444444","fillColor":"#ffffff","labelOffset":13,"encoding":{"symbols":{"fill":{"value":"#999999"},"stroke":{"value":"#444444"},"opacity":{"value":1}}}}}}}
],"resolve":{"axis":{"x":"independent","y":"independent"}}}
]},
{"width":533,"height":560,"title":{"text":"B","anchor":"start","frame":"group","dx":-47,"offset":1,"fontSize":28,"fontWeight":"bold","color":"#000000"},"layer":[
{"data":{"name":"sel"},"mark":{"type":"area","color":"#ffb0ff","clip":true},"encoding":{"x":{"field":"t","type":"quantitative","scale":{"domain":[0,21.73],"nice":false},"axis":{"values":[1,2,3,4,5,6,7,8,9,10,11,12,13,14,15,16,17,18,19,20,21],"labelExpr":"datum.value % 2 == 1 ? format(datum.value,'02d') : ''","title":"Elapsed time, HH","titlePadding":5,"labelPadding":16}},"y":{"field":"lo","type":"quantitative","scale":{"domain":[90,103.8],"nice":false},"axis":{"values":[90,92,94,96,98,100,102],"title":"Sound Exposure Level, dB re 1μPa².s","titlePadding":6}},"y2":{"field":"hi"}}},
{"data":{"name":"sel"},"mark":{"type":"line","color":"#ff00ff","strokeWidth":1,"clip":true},"encoding":{"x":{"field":"t","type":"quantitative","axis":null},"y":{"field":"m","type":"quantitative","axis":null,"scale":{"domain":[90,103.8],"nice":false}}}},
{"data":{"name":"ox"},"mark":{"type":"line","color":"#2a2af0","strokeWidth":1,"clip":true},"encoding":{"x":{"field":"t","type":"quantitative","axis":null},"y":{"field":"o","type":"quantitative","scale":{"domain":[0,16.22],"nice":false},"axis":{"orient":"right","values":[0,2,4,6,8,10,12,14,16],"title":"Dissolved Oxygen (mgl⁻¹)","titleAngle":-90,"titlePadding":32}}}},
{"data":{"name":"dkB"},"mark":{"type":"rect","stroke":"#444444","strokeWidth":1,"strokeOpacity":1},"encoding":{"x":{"field":"a","type":"quantitative","axis":{"orient":"top","values":[1,2,3,4,5,6,7,8,9,10,11,12,13,14,15,16,17,18,19,20,21],"labels":false,"title":null}},"x2":{"field":"b"},"fillOpacity":{"field":"s","type":"nominal","legend":null,"scale":{"domain":["o","i"],"range":[0.3,0.45]}},"fill":{"value":"#999999"}}},
{"data":{"name":"lgB"},"mark":{"type":"point","opacity":0},"encoding":{"shape":{"field":"k","type":"nominal","scale":{"domain":["SEL, dB re 1μPa².s","Dissolved Oxygen, mgl⁻¹","Dark period"],"range":["M-2,0H2","M-2,0H2","M-2,-1.2H2V1.2H-2Z"]},"legend":{"title":null,"orient":"none","legendX":259,"legendY":459,"padding":5,"symbolSize":324,"symbolOffset":8,"rowPadding":5,"labelFontSize":19,"labelColor":"#222222","labelOffset":12,"labelLimit":300,"strokeColor":"#444444","fillColor":"#ffffff","encoding":{"symbols":{"fill":{"value":{"expr":"datum.value=='Dark period'?'#999999':'transparent'"}},"stroke":{"value":{"expr":"datum.value=='Dark period'?'#444444':(datum.value=='Dissolved Oxygen, mgl⁻¹'?'#2a2af0':'#ff00ff')"}},"opacity":{"value":1}}}}}}}
],"resolve":{"scale":{"y":"independent"},"axis":{"x":"independent","y":"independent"}}}
],"spacing":44,"resolve":{"scale":{"fill":"independent","stroke":"independent","shape":"independent"}}}
